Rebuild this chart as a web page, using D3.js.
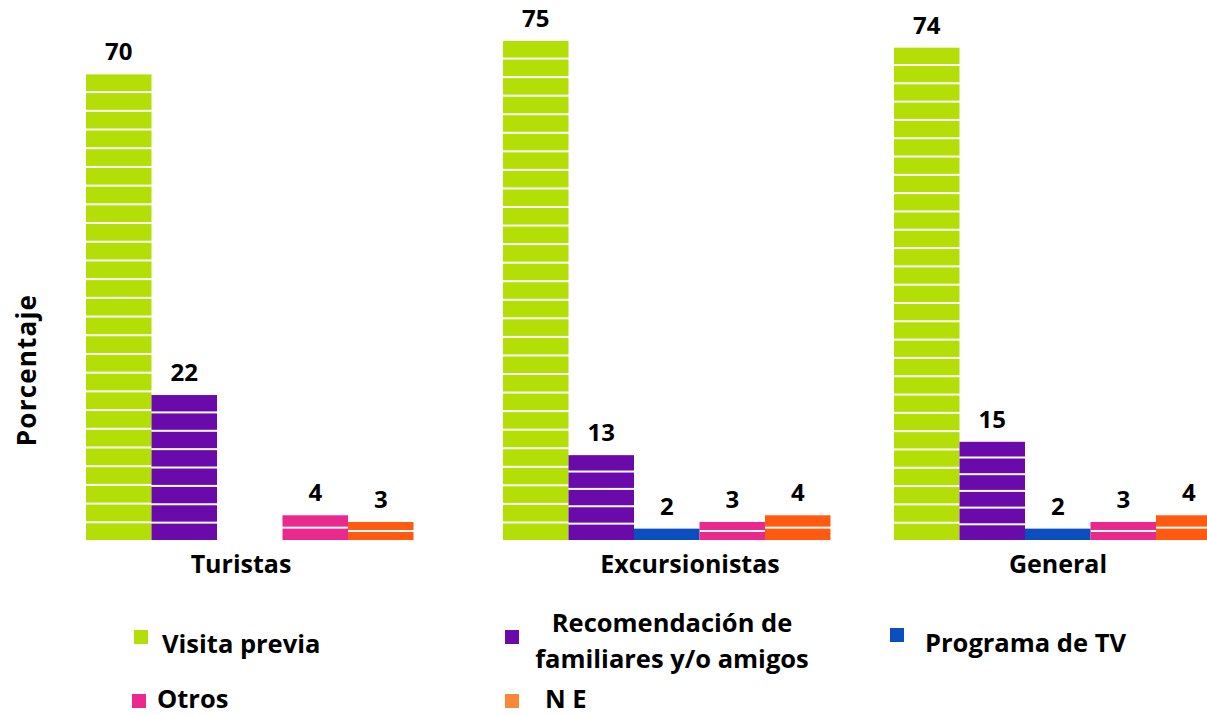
<!DOCTYPE html>
<html>
<head>
<meta charset="utf-8">
<script src="https://cdn.jsdelivr.net/npm/d3@7"></script>
<style>
  body { margin: 0; background: #fff; }
  text { font-family: "Open Sans", Lato, sans-serif; font-weight: bold; fill: #000; }
</style>
</head>
<body>
<svg id="chart" width="1207" height="715"></svg>
<script>
/* categorias y series */
var categories = ['Turistas', 'Excursionistas', 'General'];
var seriesNames = ['Visita previa', 'Recomendación de familiares y/o amigos', 'Programa de TV', 'Otros', 'N E'];
var visitaPrevia = [70, 75, 74];
var recomendacion = [22, 13, 15];
var programaTV = [null, 2, 2];
var otros = [4, 3, 3];
var noEspecifica = [3, 4, 4];

var barColors = ['#b3de06', '#6a0aaa', '#0a4ec0', '#ea288e', '#ff5a10'];
var legendColors = ['#b3de06', '#6a0aaa', '#0a4ec0', '#ea288e', '#f5883a'];

/* valor de cada "ladrillo" de la barra */
var unit = 2.8;

var values = [visitaPrevia, recomendacion, programaTV, otros, noEspecifica];

var svg = d3.select('#chart');

var y = d3.scaleLinear().domain([0, 75]).range([541, 40]);

/* posicion izquierda de cada grupo y centro de su etiqueta */
var groupX = d3.scaleOrdinal().domain(categories).range([86, 503, 894]);
var labelX = d3.scaleOrdinal().domain(categories).range([241, 690, 1058]);
var inner = d3.scaleBand().domain(seriesNames).range([0, 327.5]);

var bars = [];
categories.forEach(function(c, ci) {
    seriesNames.forEach(function(s, si) {
        var v = values[si][ci];
        if (v == null) return;
        bars.push({cat: c, series: s, si: si, value: v});
    });
});

var g = svg.append('g');

bars.forEach(function(d) {
    var x0 = groupX(d.cat) + inner(d.series);
    var top = y(d.value);
    var h = y(0) - top;
    var n = Math.max(1, Math.ceil(d.value / unit - 1e-6));
    var segH = h / n;
    for (var i = 0; i < n; i++) {
        g.append('rect')
            .attr('x', x0)
            .attr('y', top + i * segH + 1)
            .attr('width', inner.bandwidth())
            .attr('height', segH - 2)
            .attr('fill', barColors[d.si]);
    }
    g.append('text')
        .attr('x', x0 + inner.bandwidth() / 2)
        .attr('y', top - 13)
        .attr('text-anchor', 'middle')
        .attr('font-size', 24)
        .text(d.value);
});

/* etiquetas de categoria */
svg.selectAll('.cat')
    .data(categories)
    .enter().append('text')
    .attr('class', 'cat')
    .attr('x', function(d) { return labelX(d); })
    .attr('y', 573)
    .attr('text-anchor', 'middle')
    .attr('font-size', 25)
    .text(function(d) { return d; });

/* titulo del eje */
svg.append('text')
    .attr('transform', 'translate(36,370) rotate(-90)')
    .attr('text-anchor', 'middle')
    .attr('font-size', 26)
    .attr('letter-spacing', 1.2)
    .text('Porcentaje');

/* leyenda */
var legendPos = [
    {sx: 134, sy: 630, tx: 162, ty: 653, anchor: 'start', lines: ['Visita previa']},
    {sx: 505, sy: 630, tx: 672, ty: 632, anchor: 'middle', lines: ['Recomendación de', 'familiares y/o amigos']},
    {sx: 890, sy: 628, tx: 925, ty: 652, anchor: 'start', lines: ['Programa de TV']},
    {sx: 132, sy: 694, tx: 157, ty: 708, anchor: 'start', lines: ['Otros']},
    {sx: 505, sy: 694, tx: 545, ty: 708, anchor: 'start', lines: ['N E']}
];

var legend = svg.selectAll('.leg')
    .data(seriesNames)
    .enter().append('g')
    .attr('class', 'leg');

legend.append('rect')
    .attr('x', function(d, i) { return legendPos[i].sx; })
    .attr('y', function(d, i) { return legendPos[i].sy; })
    .attr('width', 14)
    .attr('height', 14)
    .attr('fill', function(d, i) { return legendColors[i]; });

legend.each(function(d, i) {
    var p = legendPos[i];
    var t = d3.select(this).append('text')
        .attr('x', p.tx)
        .attr('y', p.ty)
        .attr('text-anchor', p.anchor)
        .attr('font-size', 25.5);
    p.lines.forEach(function(l, k) {
        t.append('tspan')
            .attr('x', p.tx)
            .attr('dy', k == 0 ? 0 : 36)
            .text(l);
    });
});
</script>
</body>
</html>
